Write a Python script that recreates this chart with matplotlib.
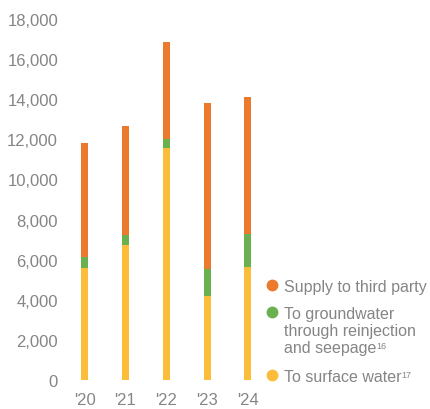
import matplotlib
matplotlib.use("Agg")
import matplotlib.pyplot as plt
from matplotlib.lines import Line2D

years = ["'20", "'21", "'22", "'23", "'24"]
surface_water = [5580, 6730, 11560, 4190, 5650]
groundwater = [570, 500, 470, 1360, 1630]
third_party = [5660, 5450, 4820, 8260, 6820]
yticks = [0, 2000, 4000, 6000, 8000, 10000, 12000, 14000, 16000, 18000]

c_orange = "#EC7A2C"
c_green = "#6BB04E"
c_yellow = "#FBBD3A"
c_text = "#858585"

plt.rcParams['font.family'] = ['Liberation Sans', 'DejaVu Sans']

fig = plt.figure(figsize=(4.3, 4.1), dpi=100)
ax = fig.add_axes([65/430, 29/410, 200/430, 361/410])

x = list(range(len(years)))
w = 0.17
ax.bar(x, surface_water, width=w, color=c_yellow)
ax.bar(x, groundwater, width=w, bottom=surface_water, color=c_green)
b3 = [s + g for s, g in zip(surface_water, groundwater)]
ax.bar(x, third_party, width=w, bottom=b3, color=c_orange)

ax.set_xlim(-0.48, 4.42)
ax.set_ylim(0, 18000)
ax.set_xticks(x)
ax.set_xticklabels(years)
ax.set_yticks(yticks)
ax.set_yticklabels([f"{v:,}" for v in yticks])
for s in ax.spines.values():
    s.set_visible(False)
ax.tick_params(axis='both', length=0, colors=c_text, labelsize=12)
ax.tick_params(axis='x', pad=9)
ax.tick_params(axis='y', pad=5)

entries = [
    (c_orange, ["Supply to third party"], "", 286),
    (c_green, ["To groundwater", "through reinjection", "and seepage"], "16", 313),
    (c_yellow, ["To surface water"], "17", 376),
]
fig.canvas.draw()
renderer = fig.canvas.get_renderer()
line_h = 17
for col, lines, sup, ypx in entries:
    fy = 1 - ypx / 410
    fig.add_artist(Line2D([272/430], [fy], marker='o', markersize=7.5,
                          color=col, linestyle='none', transform=fig.transFigure))
    t = None
    for i, ln in enumerate(lines):
        yy = 1 - (ypx + i * line_h) / 410
        t = fig.text(284/430, yy, ln, ha='left', va='center_baseline', color=c_text,
                     fontsize=11.5)
    if sup:
        bb = t.get_window_extent(renderer=renderer)
        fig.text((bb.x1 - 0.5) / 430, (bb.y1 - 1) / 410, sup,
                 ha='left', va='top', color=c_text, fontsize=6.5)

fig.savefig("out.png", dpi=100)
